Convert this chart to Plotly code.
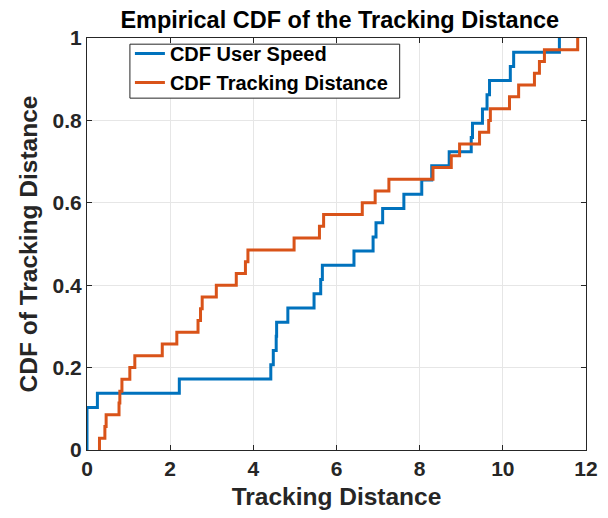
import plotly.graph_objects as go

# Sorted samples (empirical CDF steps)
user_speed = [0.0, 0.0, 0.0, 0.25, 2.22, 4.42, 4.48, 4.55, 4.56, 4.83,
              5.46, 5.62, 5.66, 6.42, 6.88, 6.95, 7.11, 7.62, 8.05, 8.29,
              8.71, 9.24, 9.27, 9.51, 9.62, 9.68, 10.18, 10.26, 11.36]
tracking_distance = [0.30, 0.43, 0.46, 0.77, 0.79, 0.84, 1.03, 1.15, 1.81, 2.16,
                     2.67, 2.73, 2.77, 3.11, 3.59, 3.81, 3.87, 4.98, 5.59, 5.69,
                     6.62, 6.93, 7.26, 8.32, 8.76, 8.96, 9.44, 9.66, 9.70, 10.16,
                     10.38, 10.76, 10.88, 11.00, 11.80]
series_names = ["CDF User Speed", "CDF Tracking Distance"]
series_colors = ["#0072BD", "#D95319"]
x_ticks = [0, 2, 4, 6, 8, 10, 12]
y_ticks = [0, 0.2, 0.4, 0.6, 0.8, 1]
y_tick_text = ["0", "0.2", "0.4", "0.6", "0.8", "1"]


def ecdf(samples):
    s = sorted(samples)
    n = len(s)
    xs = [s[0]] + s
    ys = [0.0] + [(i + 1) / n for i in range(n)]
    return xs, ys


FONT = "Liberation Sans, Arial, Helvetica, sans-serif"
fig = go.Figure()
for data, name, color in zip([user_speed, tracking_distance], series_names, series_colors):
    xs, ys = ecdf(data)
    fig.add_trace(go.Scatter(x=xs, y=ys, mode="lines", name=name,
                             line=dict(color=color, width=3, shape="hv")))

axis_common = dict(
    showline=True, linecolor="#262626", linewidth=1, mirror="ticks",
    ticks="inside", ticklen=5, tickcolor="#262626", tickwidth=1,
    showgrid=True, gridcolor="#E6E6E6", gridwidth=1, zeroline=False,
    tickfont=dict(family=FONT, size=21, color="#262626", weight="bold"),
    automargin=False,
)
# tight legend frame (MATLAB-style box), drawn behind the legend entries
fig.add_shape(type="rect", xref="paper", yref="paper",
              x0=0.086, x1=0.6266, y0=0.854, y1=0.985, layer="above",
              fillcolor="white", line=dict(color="#262626", width=1))

# page body adds an 8px offset, so the figure is 8px smaller than the window
fig.update_layout(
    width=600, height=510,
    margin=dict(l=79, r=21.5, t=30, b=68),
    paper_bgcolor="white", plot_bgcolor="white",
    font=dict(family=FONT, color="#262626"),
    title=dict(text="Empirical CDF of the Tracking Distance", x=0.553, xanchor="center",
               y=0.977, yanchor="middle",
               font=dict(family=FONT, size=23.5, color="black", weight="bold")),
    xaxis=dict(range=[0, 12], tickvals=x_ticks, title=dict(
        text="Tracking Distance", standoff=8,
        font=dict(family=FONT, size=24.5, color="#262626", weight="bold")), **axis_common),
    yaxis=dict(range=[0, 1], tickvals=y_ticks, ticktext=y_tick_text, title=dict(
        text="CDF of Tracking Distance", standoff=8,
        font=dict(family=FONT, size=24.5, color="#262626", weight="bold")), **axis_common),
    legend=dict(x=0.086, y=1.0097, xanchor="left", yanchor="top",
                bgcolor="rgba(0,0,0,0)", borderwidth=0,
                font=dict(family=FONT, size=20, color="black", weight="bold"),
                itemwidth=30, tracegroupgap=0),
    showlegend=True,
)
fig.write_html("out.html")
